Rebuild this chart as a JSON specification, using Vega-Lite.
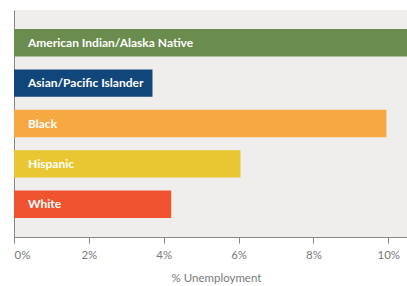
{
  "$schema": "https://vega.github.io/schema/vega-lite/v6.json",
  "width": 393,
  "height": 227,
  "autosize": {"type": "none"},
  "padding": {"left": 14, "top": 10, "right": 0, "bottom": 49},
  "background": "#ffffff",
  "config": {
    "view": {"stroke": null, "fill": "#f0eeec"},
    "font": "Lato"
  },
  "data": {
    "values": [
      {"group": "American Indian/Alaska Native", "rate": 0.11},
      {"group": "Asian/Pacific Islander", "rate": 0.037},
      {"group": "Black", "rate": 0.0995},
      {"group": "Hispanic", "rate": 0.0605},
      {"group": "White", "rate": 0.042}
    ]
  },
  "encoding": {
    "y": {
      "field": "group",
      "type": "nominal",
      "sort": null,
      "scale": {"paddingInner": 0.32, "paddingOuter": 0.47},
      "axis": {"labels": false, "ticks": false, "title": null, "domainColor": "#8a8580", "domainWidth": 1}
    }
  },
  "layer": [
    {
      "mark": {"type": "bar", "clip": true},
      "encoding": {
        "x": {
          "field": "rate",
          "type": "quantitative",
          "scale": {"domain": [0, 0.105], "nice": false},
          "axis": {
            "values": [0, 0.02, 0.04, 0.06, 0.08, 0.1],
            "format": ".0%",
            "grid": false,
            "title": "% Unemployment",
            "tickSize": 6,
            "tickColor": "#8a8580",
            "domainColor": "#8a8580",
            "labelFont": "Lato",
            "labelFontSize": 11.5,
            "labelColor": "#7a7a7a",
            "labelPadding": 6,
            "labelDx": 2,
            "titleFont": "Lato",
            "titleFontSize": 11.5,
            "titleFontWeight": "normal",
            "titleColor": "#7a7a7a",
            "titlePadding": 12,
            "titleX": 202
          }
        },
        "color": {
          "field": "group",
          "type": "nominal",
          "scale": {
            "domain": ["American Indian/Alaska Native", "Asian/Pacific Islander", "Black", "Hispanic", "White"],
            "range": ["#6a8c4e", "#10467a", "#f6a843", "#e9c733", "#ef5330"]
          },
          "legend": null
        }
      }
    },
    {
      "mark": {"type": "text", "align": "left", "baseline": "middle", "dx": 14, "color": "#ffffff", "font": "Lato", "fontWeight": "bold", "fontSize": 12},
      "encoding": {
        "x": {"datum": 0, "type": "quantitative"},
        "text": {"field": "group"}
      }
    }
  ]
}
